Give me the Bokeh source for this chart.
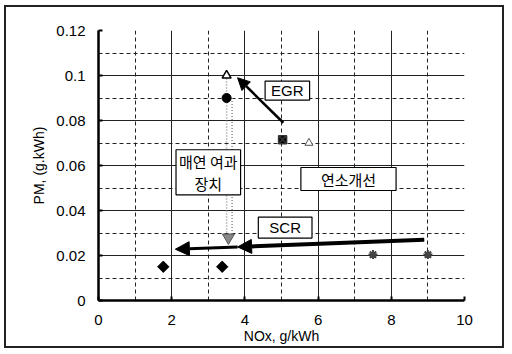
from bokeh.plotting import figure
from bokeh.models import FixedTicker, NumeralTickFormatter, Arrow, NormalHead, Label, Range1d
from bokeh.embed import file_html
from bokeh.resources import INLINE

# ---- data ----
x_ticks = [0, 2, 4, 6, 8, 10]
x_minor = [1, 3, 5, 7, 9]
y_ticks = [0, 0.02, 0.04, 0.06, 0.08, 0.1, 0.12]
y_minor = [0.01, 0.03, 0.05, 0.07, 0.09, 0.11]
x_grid_major = [2, 4, 6, 8]
y_grid_major = [0.02, 0.04, 0.06, 0.08, 0.1]
y_grid_minor = [0.01, 0.03, 0.05, 0.07, 0.09, 0.11, 0.12]

circle_x = [3.5]
circle_y = [0.09]
tri_open_x = [3.5]
tri_open_y = [0.1]
tri_small_x = [5.75]
tri_small_y = [0.07]
egr_pt_x = [5.03]
egr_pt_y = [0.0715]
dpf_x = [3.55]
dpf_y = [0.028]
diamond_x = [1.77, 3.38]
diamond_y = [0.015, 0.015]
star_x = [7.5, 9.0]
star_y = [0.0204, 0.0204]

# dotted DPF guides (x, start y, end y)
dpf_line_x = [3.5, 3.65]
dpf_line_y0 = [0.1, 0.09]
dpf_line_y1 = [0.029, 0.029]

# arrows: (x_start, y_start, x_end, y_end)
egr_arrow = (5.05, 0.079, 3.8, 0.099)
scr_arrow1 = (8.9, 0.027, 3.8, 0.0238)
scr_arrow2 = (3.8, 0.0238, 2.1, 0.0228)

labels_text = ["EGR", "매연 여과\n장치", "연소개선", "SCR"]
labels_x = [5.16, 3.0, 6.83, 5.1]
labels_y = [0.0933, 0.057, 0.054, 0.0324]
labels_pad = [(6, 1), (3, 1), (20, 1), (11, 2)]

p = figure(width=500, height=343, output_backend="svg", toolbar_location=None,
           x_range=Range1d(0, 10), y_range=Range1d(0, 0.12),
           min_border_left=92, min_border_right=42, min_border_top=23, min_border_bottom=50)
p.styles = {"border": "2px solid #222", "margin-left": "4px", "margin-top": "5px"}
p.outline_line_color = None
p.background_fill_color = "white"

p.xaxis.ticker = FixedTicker(ticks=x_ticks, minor_ticks=x_minor)
p.yaxis.ticker = FixedTicker(ticks=y_ticks, minor_ticks=y_minor)
p.yaxis.formatter = NumeralTickFormatter(format="0.[00]")

for ax in (p.xaxis, p.yaxis):
    ax.axis_line_width = 2.5
    ax.axis_line_color = "black"
    ax.major_tick_in = 4
    ax.major_tick_out = 0
    ax.major_tick_line_width = 2
    ax.minor_tick_line_color = None
    ax.major_label_text_font = "Liberation Sans"
    ax.major_label_text_font_size = "15px"
    ax.major_label_text_color = "black"
    ax.axis_label_text_font = "Liberation Sans"
    ax.axis_label_text_font_size = "14px"
    ax.axis_label_text_font_style = "normal"
    ax.axis_label_text_color = "black"

p.xaxis.axis_label = "NOx, g/kWh"
p.yaxis.axis_label = "PM, (g.kWh)"
p.xaxis.major_label_standoff = 10
p.yaxis.major_label_standoff = 9
p.xaxis.axis_label_standoff = 0
p.yaxis.axis_label_standoff = 6

p.xgrid.ticker = FixedTicker(ticks=x_grid_major, minor_ticks=x_minor)
p.ygrid.ticker = FixedTicker(ticks=y_grid_major, minor_ticks=y_grid_minor)
for g in (p.xgrid, p.ygrid):
    g.grid_line_color = "#222"
    g.grid_line_width = 1
    g.minor_grid_line_color = "#222"
    g.minor_grid_line_dash = "4 3"
    g.minor_grid_line_width = 1

# dotted DPF guides
p.segment(x0=dpf_line_x, y0=dpf_line_y0, x1=dpf_line_x, y1=dpf_line_y1,
          line_color="#888", line_dash="1 2", line_width=1.5)

# arrows
p.add_layout(Arrow(end=NormalHead(size=12, fill_color="black", line_color="black"),
                   x_start=egr_arrow[0], y_start=egr_arrow[1], x_end=egr_arrow[2], y_end=egr_arrow[3],
                   line_width=2.5, line_color="black"))
p.add_layout(Arrow(end=NormalHead(size=14, fill_color="black", line_color="black"),
                   x_start=scr_arrow1[0], y_start=scr_arrow1[1], x_end=scr_arrow1[2], y_end=scr_arrow1[3],
                   line_width=4, line_color="black"))
p.add_layout(Arrow(end=NormalHead(size=14, fill_color="black", line_color="black"),
                   x_start=scr_arrow2[0], y_start=scr_arrow2[1], x_end=scr_arrow2[2], y_end=scr_arrow2[3],
                   line_width=3, line_color="black"))

# markers
p.scatter(circle_x, circle_y, marker="circle", size=9, color="black")
p.scatter(tri_open_x, tri_open_y, marker="triangle", size=9, fill_color="white", line_color="black", line_width=1.5)
p.scatter(tri_small_x, tri_small_y, marker="triangle", size=8, fill_color="white", line_color="#555", line_width=1)
p.scatter(egr_pt_x, egr_pt_y, marker="square_x", size=8, fill_color="black", line_color="#333", line_width=1.5)
p.scatter(dpf_x, dpf_y, marker="inverted_triangle", size=12, fill_color="#888", line_color="#555")
p.scatter(diamond_x, diamond_y, marker="square", angle=0.785398, size=8, color="black")
p.scatter(star_x, star_y, marker="asterisk", size=9, line_color="#444", line_width=2)

# labels
for t, lx, ly, (ph, pv) in zip(labels_text, labels_x, labels_y, labels_pad):
    font = "Noto Sans CJK KR" if any(ord(c) > 0x1100 for c in t) else "Liberation Sans"
    p.add_layout(Label(x=lx, y=ly, text=t, text_align="center", text_baseline="middle",
                       text_font=font, text_font_size="15px", text_color="black",
                       background_fill_color="white", border_line_color="black", border_line_width=1.2,
                       padding=dict(left=ph, right=ph, top=pv, bottom=pv), text_line_height=1.05))

open("out.html", "w").write(file_html(p, INLINE))
